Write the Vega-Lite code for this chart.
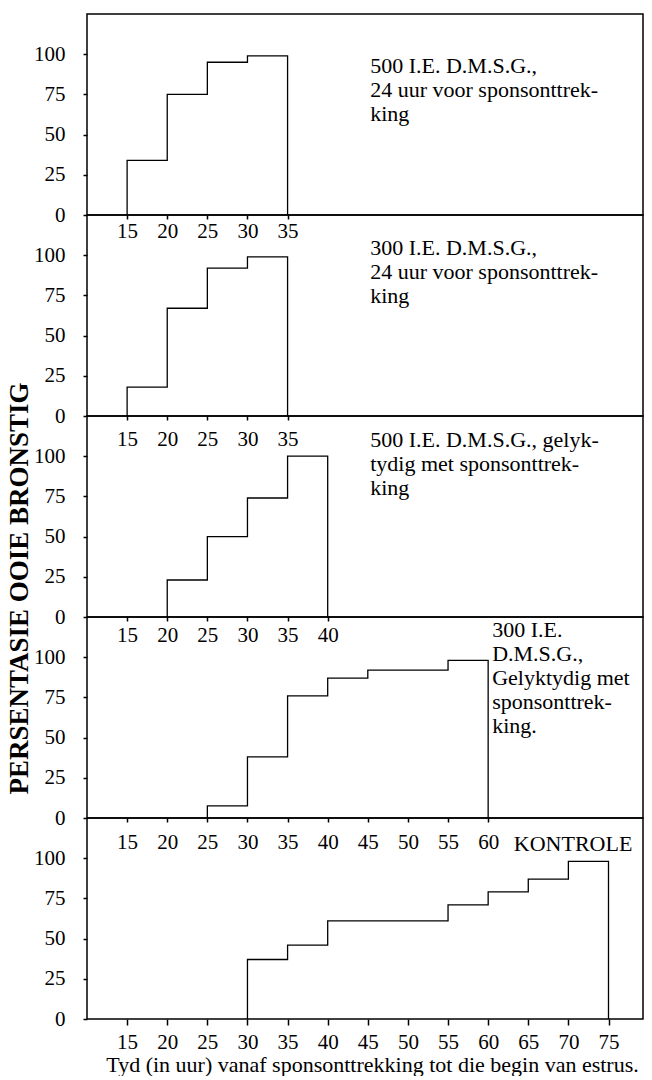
{
  "$schema": "https://vega.github.io/schema/vega-lite/v6.json",
  "background": "white",
  "padding": {"left": 4, "top": 13, "right": 4, "bottom": 0},
  "bounds": "flush",
  "spacing": 0,
  "datasets": {
    "steps": [
      {"panel": 1, "i": 1, "x": 15, "y": 0}, {"panel": 1, "i": 2, "x": 15, "y": 34}, {"panel": 1, "i": 3, "x": 20, "y": 75}, {"panel": 1, "i": 4, "x": 25, "y": 95}, {"panel": 1, "i": 5, "x": 30, "y": 99}, {"panel": 1, "i": 6, "x": 35, "y": 0},
      {"panel": 2, "i": 1, "x": 15, "y": 0}, {"panel": 2, "i": 2, "x": 15, "y": 18}, {"panel": 2, "i": 3, "x": 20, "y": 67}, {"panel": 2, "i": 4, "x": 25, "y": 92}, {"panel": 2, "i": 5, "x": 30, "y": 99}, {"panel": 2, "i": 6, "x": 35, "y": 0},
      {"panel": 3, "i": 1, "x": 20, "y": 0}, {"panel": 3, "i": 2, "x": 20, "y": 23}, {"panel": 3, "i": 3, "x": 25, "y": 50}, {"panel": 3, "i": 4, "x": 30, "y": 74}, {"panel": 3, "i": 5, "x": 35, "y": 100}, {"panel": 3, "i": 6, "x": 40, "y": 0},
      {"panel": 4, "i": 1, "x": 25, "y": 0}, {"panel": 4, "i": 2, "x": 25, "y": 7.5}, {"panel": 4, "i": 3, "x": 30, "y": 38}, {"panel": 4, "i": 4, "x": 35, "y": 76}, {"panel": 4, "i": 5, "x": 40, "y": 87}, {"panel": 4, "i": 6, "x": 45, "y": 92}, {"panel": 4, "i": 7, "x": 55, "y": 98}, {"panel": 4, "i": 8, "x": 60, "y": 0},
      {"panel": 5, "i": 1, "x": 30, "y": 0}, {"panel": 5, "i": 2, "x": 30, "y": 37}, {"panel": 5, "i": 3, "x": 35, "y": 46}, {"panel": 5, "i": 4, "x": 40, "y": 61}, {"panel": 5, "i": 5, "x": 55, "y": 71}, {"panel": 5, "i": 6, "x": 60, "y": 79}, {"panel": 5, "i": 7, "x": 65, "y": 87}, {"panel": 5, "i": 8, "x": 70, "y": 98}, {"panel": 5, "i": 9, "x": 75, "y": 0}
    ],
    "labels": [
      {"panel": 1, "x": 45.3, "y": 99, "t": "500 I.E. D.M.S.G.,\n24 uur voor sponsonttrek-\nking"},
      {"panel": 2, "x": 45.3, "y": 111, "t": "300 I.E. D.M.S.G.,\n24 uur voor sponsonttrek-\nking"},
      {"panel": 3, "x": 45.3, "y": 116, "t": "500 I.E. D.M.S.G., gelyk-\ntydig met sponsonttrek-\nking"},
      {"panel": 4, "x": 60.5, "y": 123, "t": "300 I.E.\nD.M.S.G.,\nGelyktydig met\nsponsonttrek-\nking."},
      {"panel": 5, "x": 63.2, "y": 115, "t": "KONTROLE"}
    ]
  },
  "config": {
    "font": "Liberation Serif",
    "view": {"stroke": "black", "strokeWidth": 1.5},
    "axis": {
      "grid": false,
      "domain": false,
      "labelFont": "Liberation Serif",
      "labelFontSize": 21,
      "labelColor": "black",
      "tickColor": "black",
      "tickWidth": 1.5,
      "labelOverlap": false,
      "labelBound": false,
      "labelFlush": false
    },
    "axisY": {"tickSize": 4, "labelPadding": 18},
    "text": {"font": "Liberation Serif", "fontSize": 22, "color": "black", "align": "left", "baseline": "top", "lineBreak": "\n", "lineHeight": 24},
    "line": {"color": "black", "strokeWidth": 1.3, "interpolate": "step-after"}
  },
  "vconcat": [
    {
      "width": 556, "height": 201,
      "layer": [
        {"data": {"name": "steps"}, "transform": [{"filter": "datum.panel == 1"}], "mark": "line",
         "encoding": {
           "x": {"field": "x", "type": "quantitative", "scale": {"domain": [10, 79.3], "nice": false, "zero": false}, "axis": {"values": [15, 20, 25, 30, 35], "tickSize": 4, "labelPadding": 1, "title": null}},
           "y": {"field": "y", "type": "quantitative", "scale": {"domain": [0, 125], "nice": false}, "axis": {"title": null, "values": [0, 25, 50, 75, 100]}},
           "order": {"field": "i"}}},
        {"data": {"name": "labels"}, "transform": [{"filter": "datum.panel == 1"}], "mark": "text",
         "encoding": {"x": {"field": "x", "type": "quantitative"}, "y": {"field": "y", "type": "quantitative"}, "text": {"field": "t"}}}
      ]
    },
    {
      "width": 556, "height": 201,
      "layer": [
        {"data": {"name": "steps"}, "transform": [{"filter": "datum.panel == 2"}], "mark": "line",
         "encoding": {
           "x": {"field": "x", "type": "quantitative", "scale": {"domain": [10, 79.3], "nice": false, "zero": false}, "axis": {"values": [15, 20, 25, 30, 35], "tickSize": 4, "labelPadding": 8, "title": null}},
           "y": {"field": "y", "type": "quantitative", "scale": {"domain": [0, 125], "nice": false}, "axis": {"title": null, "values": [0, 25, 50, 75, 100]}},
           "order": {"field": "i"}}},
        {"data": {"name": "labels"}, "transform": [{"filter": "datum.panel == 2"}], "mark": "text",
         "encoding": {"x": {"field": "x", "type": "quantitative"}, "y": {"field": "y", "type": "quantitative"}, "text": {"field": "t"}}}
      ]
    },
    {
      "width": 556, "height": 201,
      "layer": [
        {"data": {"name": "steps"}, "transform": [{"filter": "datum.panel == 3"}], "mark": "line",
         "encoding": {
           "x": {"field": "x", "type": "quantitative", "scale": {"domain": [10, 79.3], "nice": false, "zero": false}, "axis": {"values": [15, 20, 25, 30, 35, 40], "tickSize": 4, "labelPadding": 3, "title": null}},
           "y": {"field": "y", "type": "quantitative", "scale": {"domain": [0, 125], "nice": false},
                 "axis": {"values": [0, 25, 50, 75, 100], "title": "PERSENTASIE OOIE BRONSTIG", "titleFont": "Liberation Serif", "titleFontWeight": "bold", "titleFontSize": 27, "titleColor": "black", "titleAngle": 270, "titleAlign": "center", "titleBaseline": "middle", "titleX": -68, "titleY": 172}},
           "order": {"field": "i"}}},
        {"data": {"name": "labels"}, "transform": [{"filter": "datum.panel == 3"}], "mark": "text",
         "encoding": {"x": {"field": "x", "type": "quantitative"}, "y": {"field": "y", "type": "quantitative"}, "text": {"field": "t"}}}
      ]
    },
    {
      "width": 556, "height": 201,
      "layer": [
        {"data": {"name": "steps"}, "transform": [{"filter": "datum.panel == 4"}], "mark": "line",
         "encoding": {
           "x": {"field": "x", "type": "quantitative", "scale": {"domain": [10, 79.3], "nice": false, "zero": false}, "axis": {"values": [15, 20, 25, 30, 35, 40, 45, 50, 55, 60], "tickSize": 4, "labelPadding": 9, "title": null}},
           "y": {"field": "y", "type": "quantitative", "scale": {"domain": [0, 125], "nice": false}, "axis": {"title": null, "values": [0, 25, 50, 75, 100]}},
           "order": {"field": "i"}}},
        {"data": {"name": "labels"}, "transform": [{"filter": "datum.panel == 4"}], "mark": "text",
         "encoding": {"x": {"field": "x", "type": "quantitative"}, "y": {"field": "y", "type": "quantitative"}, "text": {"field": "t"}}}
      ]
    },
    {
      "width": 556, "height": 201,
      "layer": [
        {"data": {"name": "steps"}, "transform": [{"filter": "datum.panel == 5"}], "mark": "line",
         "encoding": {
           "x": {"field": "x", "type": "quantitative", "scale": {"domain": [10, 79.3], "nice": false, "zero": false},
                 "axis": {"values": [15, 20, 25, 30, 35, 40, 45, 50, 55, 60, 65, 70, 75], "tickSize": 6, "labelPadding": 6,
                          "title": "Tyd (in uur) vanaf sponsonttrekking tot die begin van estrus.", "titleFont": "Liberation Serif", "titleFontWeight": "normal", "titleFontSize": 22, "titleColor": "black", "titleAlign": "center", "titleBaseline": "middle", "titleX": 285, "titleY": 45}},
           "y": {"field": "y", "type": "quantitative", "scale": {"domain": [0, 125], "nice": false}, "axis": {"title": null, "values": [0, 25, 50, 75, 100]}},
           "order": {"field": "i"}}},
        {"data": {"name": "labels"}, "transform": [{"filter": "datum.panel == 5"}], "mark": "text",
         "encoding": {"x": {"field": "x", "type": "quantitative"}, "y": {"field": "y", "type": "quantitative"}, "text": {"field": "t"}}}
      ]
    }
  ]
}
